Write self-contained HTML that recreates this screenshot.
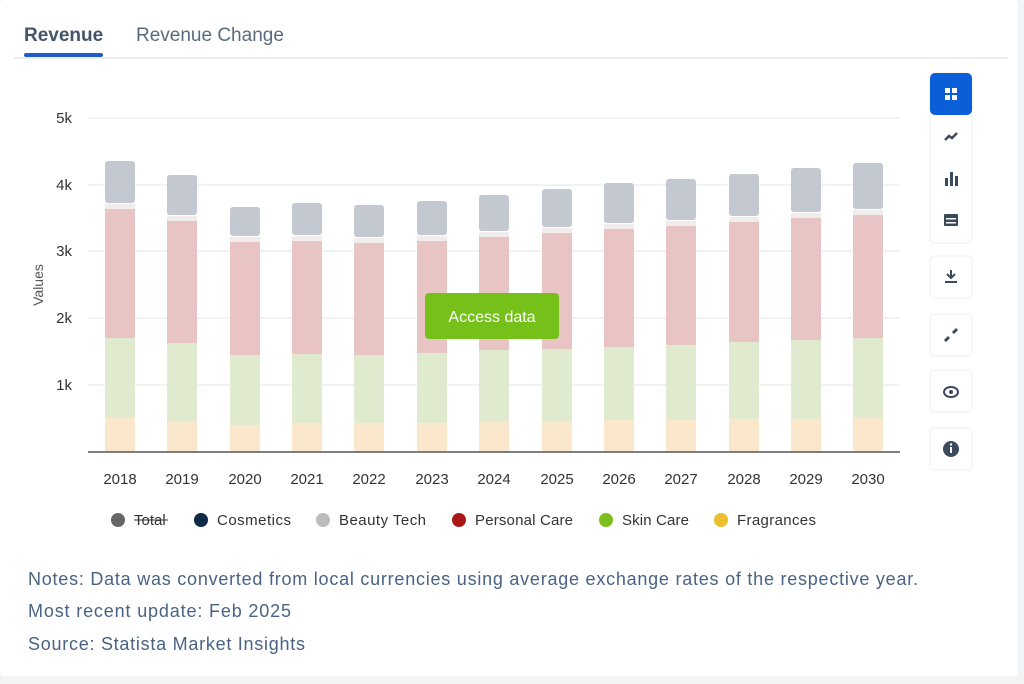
<!DOCTYPE html>
<html><head><meta charset="utf-8"><style>
body{margin:0;background:#f3f4f6;font-family:"Liberation Sans",sans-serif;}
.card{position:absolute;left:0;top:0;width:1018px;height:676px;background:#fff;border-radius:4px;}
</style></head><body>
<div class="card"></div>
<svg width="1024" height="684" style="position:absolute;left:0;top:0" font-family="Liberation Sans, sans-serif">
<text x="24" y="41" font-size="19" font-weight="bold" fill="#44546a">Revenue</text>
<text x="136" y="41" font-size="19" fill="#5a6a7e">Revenue Change</text>
<line x1="14" y1="58" x2="1008" y2="58" stroke="#e6e8eb" stroke-width="1.5"/>
<rect x="24" y="53" width="79" height="4" rx="2" fill="#1e5cc8"/>
<g stroke="#e3e5e8" stroke-width="1">
<line x1="88" y1="118" x2="900" y2="118"/><line x1="88" y1="185" x2="900" y2="185"/><line x1="88" y1="251" x2="900" y2="251"/><line x1="88" y1="318" x2="900" y2="318"/><line x1="88" y1="385" x2="900" y2="385"/>
</g>
<g font-size="15" fill="#333" text-anchor="end">
<text x="72" y="123">5k</text><text x="72" y="190">4k</text><text x="72" y="256">3k</text><text x="72" y="323">2k</text><text x="72" y="390">1k</text>
</g>
<text transform="translate(43,285) rotate(-90)" font-size="14" fill="#555" text-anchor="middle">Values</text>
<g id="bars">
<rect x="105" y="161" width="30" height="42" rx="3" fill="#c3c8d1"/><rect x="105" y="204" width="30" height="5" fill="#f0eded"/><rect x="105" y="209" width="30" height="129" fill="#e9c4c4"/><rect x="105" y="338" width="30" height="80" fill="#dfeacf"/><rect x="105" y="418" width="30" height="34" fill="#fbe8cc"/>
<rect x="167" y="175" width="30" height="40" rx="3" fill="#c3c8d1"/><rect x="167" y="216" width="30" height="5" fill="#f0eded"/><rect x="167" y="221" width="30" height="122" fill="#e9c4c4"/><rect x="167" y="343" width="30" height="78" fill="#dfeacf"/><rect x="167" y="421" width="30" height="31" fill="#fbe8cc"/>
<rect x="230" y="207" width="30" height="29" rx="3" fill="#c3c8d1"/><rect x="230" y="237" width="30" height="5" fill="#f0eded"/><rect x="230" y="242" width="30" height="113" fill="#e9c4c4"/><rect x="230" y="355" width="30" height="70" fill="#dfeacf"/><rect x="230" y="425" width="30" height="27" fill="#fbe8cc"/>
<rect x="292" y="203" width="30" height="32" rx="3" fill="#c3c8d1"/><rect x="292" y="236" width="30" height="5" fill="#f0eded"/><rect x="292" y="241" width="30" height="113" fill="#e9c4c4"/><rect x="292" y="354" width="30" height="69" fill="#dfeacf"/><rect x="292" y="423" width="30" height="29" fill="#fbe8cc"/>
<rect x="354" y="205" width="30" height="32" rx="3" fill="#c3c8d1"/><rect x="354" y="238" width="30" height="5" fill="#f0eded"/><rect x="354" y="243" width="30" height="112" fill="#e9c4c4"/><rect x="354" y="355" width="30" height="68" fill="#dfeacf"/><rect x="354" y="423" width="30" height="29" fill="#fbe8cc"/>
<rect x="417" y="201" width="30" height="34" rx="3" fill="#c3c8d1"/><rect x="417" y="236" width="30" height="5" fill="#f0eded"/><rect x="417" y="241" width="30" height="112" fill="#e9c4c4"/><rect x="417" y="353" width="30" height="70" fill="#dfeacf"/><rect x="417" y="423" width="30" height="29" fill="#fbe8cc"/>
<rect x="479" y="195" width="30" height="36" rx="3" fill="#c3c8d1"/><rect x="479" y="232" width="30" height="5" fill="#f0eded"/><rect x="479" y="237" width="30" height="113" fill="#e9c4c4"/><rect x="479" y="350" width="30" height="72" fill="#dfeacf"/><rect x="479" y="422" width="30" height="30" fill="#fbe8cc"/>
<rect x="542" y="189" width="30" height="38" rx="3" fill="#c3c8d1"/><rect x="542" y="228" width="30" height="5" fill="#f0eded"/><rect x="542" y="233" width="30" height="116" fill="#e9c4c4"/><rect x="542" y="349" width="30" height="72" fill="#dfeacf"/><rect x="542" y="421" width="30" height="31" fill="#fbe8cc"/>
<rect x="604" y="183" width="30" height="40" rx="3" fill="#c3c8d1"/><rect x="604" y="224" width="30" height="5" fill="#f0eded"/><rect x="604" y="229" width="30" height="118" fill="#e9c4c4"/><rect x="604" y="347" width="30" height="73" fill="#dfeacf"/><rect x="604" y="420" width="30" height="32" fill="#fbe8cc"/>
<rect x="666" y="179" width="30" height="41" rx="3" fill="#c3c8d1"/><rect x="666" y="221" width="30" height="5" fill="#f0eded"/><rect x="666" y="226" width="30" height="119" fill="#e9c4c4"/><rect x="666" y="345" width="30" height="75" fill="#dfeacf"/><rect x="666" y="420" width="30" height="32" fill="#fbe8cc"/>
<rect x="729" y="174" width="30" height="42" rx="3" fill="#c3c8d1"/><rect x="729" y="217" width="30" height="5" fill="#f0eded"/><rect x="729" y="222" width="30" height="120" fill="#e9c4c4"/><rect x="729" y="342" width="30" height="77" fill="#dfeacf"/><rect x="729" y="419" width="30" height="33" fill="#fbe8cc"/>
<rect x="791" y="168" width="30" height="44" rx="3" fill="#c3c8d1"/><rect x="791" y="213" width="30" height="5" fill="#f0eded"/><rect x="791" y="218" width="30" height="122" fill="#e9c4c4"/><rect x="791" y="340" width="30" height="79" fill="#dfeacf"/><rect x="791" y="419" width="30" height="33" fill="#fbe8cc"/>
<rect x="853" y="163" width="30" height="46" rx="3" fill="#c3c8d1"/><rect x="853" y="210" width="30" height="5" fill="#f0eded"/><rect x="853" y="215" width="30" height="123" fill="#e9c4c4"/><rect x="853" y="338" width="30" height="80" fill="#dfeacf"/><rect x="853" y="418" width="30" height="34" fill="#fbe8cc"/>
</g>
<line x1="88" y1="452" x2="900" y2="452" stroke="#555" stroke-width="1.5"/>
<g font-size="15" fill="#333" text-anchor="middle">
<text x="120" y="484">2018</text><text x="182" y="484">2019</text><text x="245" y="484">2020</text><text x="307" y="484">2021</text><text x="369" y="484">2022</text><text x="432" y="484">2023</text><text x="494" y="484">2024</text><text x="557" y="484">2025</text><text x="619" y="484">2026</text><text x="681" y="484">2027</text><text x="744" y="484">2028</text><text x="806" y="484">2029</text><text x="868" y="484">2030</text>
</g>
<rect x="425" y="293" width="134" height="46" rx="4" fill="#76c01a"/>
<text x="492" y="322" font-size="16" fill="#fff" text-anchor="middle">Access data</text>
<g font-size="15" fill="#333">
<circle cx="118" cy="520" r="7" fill="#666"/><text x="134" y="525">Total</text><line x1="134" y1="520" x2="168" y2="520" stroke="#333" stroke-width="1"/>
<circle cx="201" cy="520" r="7" fill="#0f2a48"/><text x="217" y="525" textLength="74">Cosmetics</text>
<circle cx="323" cy="520" r="7" fill="#bdbdbd"/><text x="339" y="525" textLength="87">Beauty Tech</text>
<circle cx="459" cy="520" r="7" fill="#a81818"/><text x="475" y="525" textLength="98">Personal Care</text>
<circle cx="606" cy="520" r="7" fill="#7cbf1e"/><text x="622" y="525" textLength="67">Skin Care</text>
<circle cx="721" cy="520" r="7" fill="#ecbf2f"/><text x="737" y="525" textLength="79">Fragrances</text>
</g>
<g font-size="18" fill="#4a6384">
<text x="28" y="585" textLength="890">Notes: Data was converted from local currencies using average exchange rates of the respective year.</text>
<text x="28" y="617" textLength="263">Most recent update: Feb 2025</text>
<text x="28" y="650" textLength="277">Source: Statista Market Insights</text>
</g>
<g>
<rect x="930" y="73" width="42" height="170" rx="5" fill="#fff" stroke="#eceef1"/>
<rect x="930" y="73" width="42" height="42" rx="5" fill="#0a5fd9"/>
<rect x="945" y="88" width="5" height="5" fill="#fff"/><rect x="952" y="88" width="5" height="5" fill="#fff"/><rect x="945" y="95" width="5" height="5" fill="#fff"/><rect x="952" y="95" width="5" height="5" fill="#fff"/>
<polyline points="945,140 949,136 952,138 957,133" fill="none" stroke="#3c4a5e" stroke-width="2.5"/>
<rect x="945" y="178" width="3" height="8" fill="#3c4a5e"/><rect x="950" y="172" width="3" height="14" fill="#3c4a5e"/><rect x="955" y="176" width="3" height="10" fill="#3c4a5e"/>
<rect x="944" y="214" width="14" height="12" rx="1" fill="#3c4a5e"/><rect x="946" y="218" width="10" height="1.5" fill="#fff"/><rect x="946" y="222" width="10" height="1.5" fill="#fff"/>
<rect x="930" y="256" width="42" height="42" rx="4" fill="#fff" stroke="#eceef1"/>
<path d="M951 270 v8 M947 274 l4 4 4-4 M945 282 h12" stroke="#3c4a5e" stroke-width="2" fill="none"/>
<rect x="930" y="314" width="42" height="42" rx="4" fill="#fff" stroke="#eceef1"/>
<path d="M945 341 l4-4 M953 333 l4-4" stroke="#3c4a5e" stroke-width="3"/>
<rect x="930" y="370" width="42" height="42" rx="4" fill="#fff" stroke="#eceef1"/>
<ellipse cx="951" cy="392" rx="7" ry="5" fill="none" stroke="#3c4a5e" stroke-width="2"/><circle cx="951" cy="392" r="2" fill="#3c4a5e"/>
<rect x="930" y="428" width="42" height="42" rx="4" fill="#fff" stroke="#eceef1"/>
<circle cx="951" cy="449" r="8" fill="#3c4a5e"/><rect x="950" y="447" width="2" height="6" fill="#fff"/><circle cx="951" cy="444.5" r="1.2" fill="#fff"/>
</g>
</svg>
</body></html>
